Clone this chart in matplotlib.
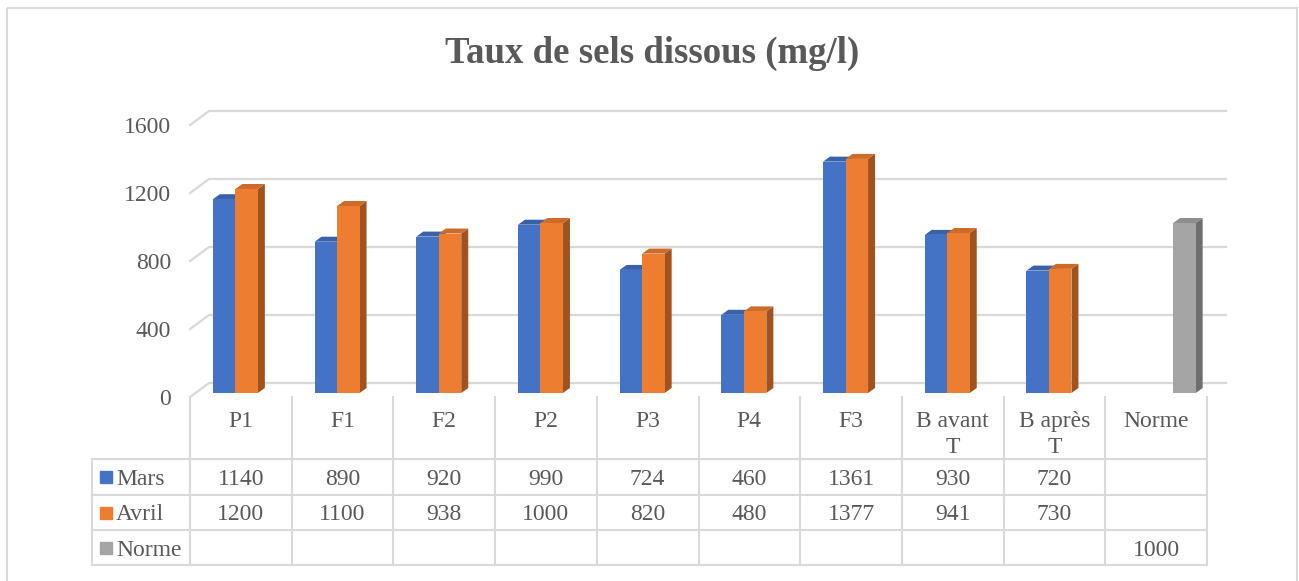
import numpy as np
import matplotlib.pyplot as plt
from matplotlib import transforms
from matplotlib.patches import Polygon, Rectangle

# data
categories = ["P1", "F1", "F2", "P2", "P3", "P4", "F3", "B avant\nT", "B après\nT", "Norme"]
series_names = ["Mars", "Avril", "Norme"]
mars = [1140, 890, 920, 990, 724, 460, 1361, 930, 720, np.nan]
avril = [1200, 1100, 938, 1000, 820, 480, 1377, 941, 730, np.nan]
norme = [np.nan] * 9 + [1000]
yticks = [0, 400, 800, 1200, 1600]

plt.rcParams['font.family'] = ['Liberation Serif', 'DejaVu Serif']
text_col = '#595959'
grid_col = '#d9d9d9'
face = ['#4472C4', '#ED7D31', '#A5A5A5']
top = ['#3A62A8', '#CC6B2A', '#8E8E8E']
side = ['#2F5597', '#A0521F', '#6E6E6E']

W, H = 1299, 581
fig = plt.figure(figsize=(W / 100, H / 100), dpi=100)

# overlay in pixel coords for frame / table rows
ov = fig.add_axes([0, 0, 1, 1])
ov.set_xlim(0, W)
ov.set_ylim(H, 0)
ov.axis('off')
ov.add_patch(Rectangle((7, 8), 1290, 620, fill=False, ec=grid_col, lw=1.5))

x0, x1, y0, y1 = 190, 1207, 397, 125
ax = fig.add_axes([x0 / W, (H - y0) / H, (x1 - x0) / W, (y0 - y1) / H])
ax.patch.set_visible(False)
for s in ax.spines.values():
    s.set_visible(False)
n = len(categories)
ppx = (x1 - x0) / n
ppy = (y0 - y1) / 1600

# back wall gridlines (3D look)
gdx, gdy = 19 / ppx, 14 / ppy
for v in yticks:
    ax.plot([-0.5, -0.5 + gdx, n - 0.5 + gdx], [v, v + gdy, v + gdy],
            color=grid_col, lw=1.6, clip_on=False, zorder=0)

# bars with side/top faces
bar_tr = transforms.offset_copy(ax.transData, fig=fig, x=5.75, y=4, units='dots')
w = 22.5 / ppx
ddx, ddy = 7 / ppx, 5 / ppy
xs = np.arange(n)
for k, vals in enumerate([mars, avril, norme]):
    pos = xs + (k - 1) * w
    ax.bar(pos, vals, width=w, color=face[k], transform=bar_tr, zorder=3 + k)
    for p, v in zip(pos, vals):
        if np.isnan(v):
            continue
        l, r = p - w / 2, p + w / 2
        ax.add_patch(Polygon([(r, 0), (r + ddx, ddy), (r + ddx, v + ddy), (r, v)],
                             fc=side[k], ec='none', transform=bar_tr, zorder=2.5 + k))
        ax.add_patch(Polygon([(l, v), (r, v), (r + ddx, v + ddy), (l + ddx, v + ddy)],
                             fc=top[k], ec='none', transform=bar_tr, zorder=2.5 + k))

ax.set_xlim(-0.5, n - 0.5)
ax.set_ylim(0, 1600)
ax.set_xticks([])
ax.set_yticks(yticks)
ax.tick_params(axis='y', length=0, pad=13.7, labelsize=17, labelcolor=text_col)

# data table under the chart
bt = transforms.blended_transform_factory(ax.transData, ov.transData)
x_left = -0.5 - (x0 - 92) / ppx
row_lines = [459, 495, 530, 565]
for i in range(n + 1):
    ax.plot([i - 0.5, i - 0.5], [397, 565], color=grid_col, lw=1.5, transform=bt, clip_on=False)
ax.plot([x_left, x_left], [459, 565], color=grid_col, lw=1.5, transform=bt, clip_on=False)
for yl in row_lines:
    ax.plot([x_left, n - 0.5], [yl, yl], color=grid_col, lw=1.5, transform=bt, clip_on=False)

for i, c in enumerate(categories):
    ax.text(i, 411, c, transform=bt, ha='center', va='top', fontsize=17,
            color=text_col, linespacing=1.3, clip_on=False)

for k, (name, vals) in enumerate(zip(series_names, [mars, avril, norme])):
    yc = (row_lines[k] + row_lines[k + 1]) / 2
    ov.add_patch(Rectangle((100, yc - 6), 12, 12, color=face[k]))
    ov.text(116, yc, name, ha='left', va='center_baseline', fontsize=17, color=text_col)
    for i, v in enumerate(vals):
        if not np.isnan(v):
            ax.text(i, yc, f"{int(v)}", transform=bt, ha='center', va='center_baseline',
                    fontsize=17, color=text_col, clip_on=False)

fig.text(652 / W, 1 - 53 / H, "Taux de sels dissous (mg/l)", ha='center', va='center',
         fontsize=26.5, fontweight='bold', color=text_col)

fig.savefig('out.png', dpi=100)
